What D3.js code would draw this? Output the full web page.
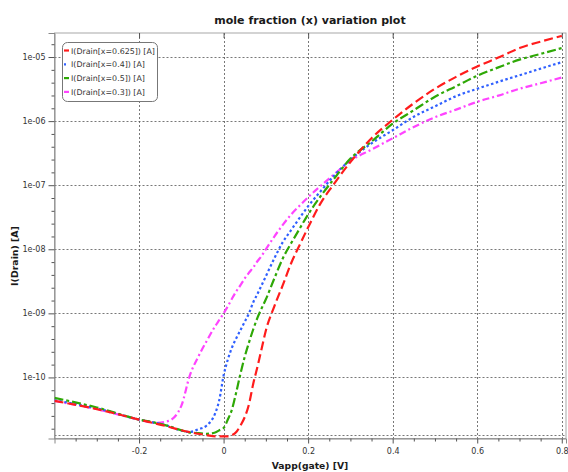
<!DOCTYPE html>
<html><head><meta charset="utf-8">
<script src="https://cdn.jsdelivr.net/npm/d3@7"></script>
<style>body{margin:0;background:#fff} svg{display:block}</style>
</head><body>
<svg id="chart" width="568" height="472"></svg>
<script>
// ---- data ----
const vgate = [-0.4, -0.3, -0.2, -0.16, -0.13, -0.1, -0.08, -0.06, -0.04, -0.02, -0.01, 0, 0.01, 0.02, 0.03, 0.04, 0.05, 0.06, 0.07, 0.08, 0.09, 0.1, 0.12, 0.14, 0.16, 0.18, 0.2, 0.23, 0.26, 0.3, 0.35, 0.4, 0.45, 0.5, 0.55, 0.6, 0.65, 0.7, 0.75, 0.8];
const seriesNames = ["I(Drain[x=0.625]) [A]", "I(Drain[x=0.4]) [A]", "I(Drain[x=0.5]) [A]", "I(Drain[x=0.3]) [A]"];
const idX0625 = [4.3e-11, 3.2e-11, 2.2e-11, 1.9e-11, 1.7e-11, 1.5e-11, 1.4e-11, 1.32e-11, 1.26e-11, 1.2e-11, 1.2e-11, 1.2e-11, 1.2e-11, 1.26e-11, 1.41e-11, 1.78e-11, 2.4e-11, 3.8e-11, 7.9e-11, 1.45e-10, 2.8e-10, 5.4e-10, 1.29e-9, 2.75e-9, 6.1e-9, 1.17e-8, 2.2e-8, 5.3e-8, 1.02e-7, 2.3e-7, 5.4e-7, 1.05e-6, 1.9e-6, 3.2e-6, 4.9e-6, 7.1e-6, 9.8e-6, 1.38e-5, 1.74e-5, 2.14e-5];
const idX04 = [4.4e-11, 3.3e-11, 2.2e-11, 1.95e-11, 1.74e-11, 1.48e-11, 1.41e-11, 1.55e-11, 1.78e-11, 2.75e-11, 4.5e-11, 1.07e-10, 1.9e-10, 2.95e-10, 4.1e-10, 5.5e-10, 7.4e-10, 1.0e-9, 1.48e-9, 2.0e-9, 2.75e-9, 3.8e-9, 7.2e-9, 1.29e-8, 2.0e-8, 3.1e-8, 4.7e-8, 8.1e-8, 1.38e-7, 2.5e-7, 4.5e-7, 7.2e-7, 1.17e-6, 1.7e-6, 2.45e-6, 3.2e-6, 4.1e-6, 5.2e-6, 6.6e-6, 8.3e-6];
const idX05 = [4.8e-11, 3.4e-11, 2.2e-11, 1.95e-11, 1.74e-11, 1.5e-11, 1.38e-11, 1.35e-11, 1.32e-11, 1.38e-11, 1.5e-11, 1.62e-11, 2.2e-11, 3.2e-11, 5.9e-11, 1.15e-10, 2.1e-10, 3.5e-10, 5.6e-10, 8.5e-10, 1.2e-9, 1.66e-9, 3.5e-9, 7.2e-9, 1.25e-8, 2.1e-8, 3.5e-8, 6.8e-8, 1.23e-7, 2.6e-7, 4.8e-7, 9.1e-7, 1.48e-6, 2.4e-6, 3.5e-6, 5.1e-6, 6.9e-6, 9.1e-6, 1.12e-5, 1.38e-5];
const idX03 = [4.3e-11, 3.2e-11, 2.2e-11, 1.95e-11, 2.1e-11, 3.6e-11, 1.07e-10, 2.1e-10, 3.7e-10, 6.3e-10, 7.9e-10, 1.0e-9, 1.29e-9, 1.7e-9, 2.2e-9, 2.75e-9, 3.5e-9, 4.3e-9, 5.2e-9, 6.5e-9, 7.9e-9, 1.0e-8, 1.58e-8, 2.4e-8, 3.5e-8, 4.8e-8, 6.5e-8, 9.8e-8, 1.45e-7, 2.4e-7, 3.6e-7, 5.4e-7, 8.1e-7, 1.15e-6, 1.51e-6, 2.0e-6, 2.5e-6, 3.2e-6, 3.9e-6, 4.8e-6];
const xTickValues = [-0.2, 0, 0.2, 0.4, 0.6, 0.8];
const xTickLabels = ["-0.2", "0", "0.2", "0.4", "0.6", "0.8"];
const yTickValues = [1e-10, 1e-9, 1e-8, 1e-7, 1e-6, 1e-5];
const yTickLabels = ["1e-10", "1e-09", "1e-08", "1e-07", "1e-06", "1e-05"];

// ---- style ----
const colors = ["#ff1c1c", "#3060ff", "#2ea806", "#ff44ff"];
const dashes = ["9,4", "2.5,2.5", "9,3,3,3", "7,3,2,3"];
const seriesValues = [idX0625, idX04, idX05, idX03];

const svg = d3.select("#chart");
const L = 54.5, R = 566, T = 33, B = 438.5;
const x = d3.scaleLinear().domain([-0.4, 0.81]).range([L, R]);
const y = d3.scaleLog().domain([Math.pow(10, -10.953), Math.pow(10, -4.625)]).range([B, T]);
const font = "DejaVu Sans, Verdana, sans-serif";

svg.append("defs").append("clipPath").attr("id", "clip")
  .append("rect").attr("x", L).attr("y", T).attr("width", R - L).attr("height", B - T);

// title
svg.append("text").attr("x", 310).attr("y", 24).attr("text-anchor", "middle")
  .attr("font-family", font).attr("font-weight", "bold").attr("font-size", 11)
  .attr("fill", "#1a1a1a").text("mole fraction (x) variation plot");

// grid
const grid = svg.append("g").attr("stroke", "#555").attr("stroke-width", 0.8).attr("stroke-dasharray", "2,2");
grid.selectAll(".gx").data(xTickValues).join("line")
  .attr("x1", d => Math.round(x(d)) + 0.5).attr("x2", d => Math.round(x(d)) + 0.5)
  .attr("y1", T).attr("y2", B);
grid.selectAll(".gy").data(yTickValues).join("line")
  .attr("x1", L).attr("x2", R)
  .attr("y1", d => Math.round(y(d)) + 0.5).attr("y2", d => Math.round(y(d)) + 0.5);
grid.append("line").attr("x1", L).attr("x2", R).attr("y1", B - 3).attr("y2", B - 3);

// frame
svg.append("rect").attr("x", L).attr("y", T).attr("width", R - L).attr("height", B - T)
  .attr("fill", "none").attr("stroke", "#a8a8a8").attr("stroke-width", 1);

// axes
const xMinor = d3.range(-0.35, 0.81, 0.05).map(v => +v.toFixed(2)).filter(v => !xTickValues.some(t => Math.abs(t - v) < 1e-6));
svg.append("g").attr("transform", `translate(0,${B})`)
  .call(d3.axisBottom(x).tickValues(xTickValues).tickSize(5).tickPadding(5)
    .tickFormat((d, i) => xTickLabels[i]));
svg.append("g").attr("transform", `translate(0,${B})`)
  .call(d3.axisBottom(x).tickValues(xMinor).tickSize(3).tickFormat(""))
  .select(".domain").remove();
const yMinor = [];
for (let k = -11; k <= -5; k++) for (let j = 1; j < 5; j++) {
  const v = Math.pow(10, k + j * 0.2);
  if (v > y.domain()[0] && v < y.domain()[1]) yMinor.push(v);
}
svg.append("g").attr("transform", `translate(${L},0)`)
  .call(d3.axisLeft(y).tickValues(yTickValues).tickSize(6).tickPadding(3)
    .tickFormat((d, i) => yTickLabels[i]));
svg.append("g").attr("transform", `translate(${L},0)`)
  .call(d3.axisLeft(y).tickValues(yMinor).tickSize(3).tickFormat(""))
  .select(".domain").remove();
// top inward major ticks
svg.append("g").attr("transform", `translate(0,${T})`)
  .call(d3.axisTop(x).tickValues(xTickValues).tickSize(-5).tickFormat(""))
  .select(".domain").remove();

svg.selectAll(".domain").attr("stroke", "#888");
svg.selectAll(".tick line").attr("stroke", "#555");
svg.selectAll(".tick text").attr("font-family", font).attr("font-size", 8).attr("fill", "#333");

// axis labels
svg.append("text").attr("x", 310).attr("y", 469).attr("text-anchor", "middle")
  .attr("font-family", font).attr("font-weight", "bold").attr("font-size", 9.2)
  .attr("fill", "#1a1a1a").text("Vapp(gate) [V]");
svg.append("text").attr("transform", "translate(18,256) rotate(-90)").attr("text-anchor", "middle")
  .attr("font-family", font).attr("font-weight", "bold").attr("font-size", 9.4)
  .attr("fill", "#1a1a1a").text("I(Drain) [A]");

// curves
const line = d3.line().x(d => x(d[0])).y(d => y(d[1])).curve(d3.curveMonotoneX);
const plot = svg.append("g").attr("clip-path", "url(#clip)");
const order = [3, 1, 2, 0];
order.forEach(s => {
  plot.append("path")
    .datum(vgate.map((v, i) => [v, seriesValues[s][i]]))
    .attr("fill", "none").attr("stroke", colors[s]).attr("stroke-width", 2.2)
    .attr("stroke-dasharray", dashes[s]).attr("d", line);
});

// legend
const lg = svg.append("g").attr("transform", "translate(62.5,42.5)");
lg.append("rect").attr("width", 95).attr("height", 59).attr("rx", 5)
  .attr("fill", "#fff").attr("stroke", "#777").attr("stroke-width", 1);
seriesNames.forEach((n, i) => {
  const yy = 8 + i * 13.8;
  lg.append("line").attr("x1", 1.5).attr("x2", 6.5).attr("y1", yy).attr("y2", yy)
    .attr("stroke", colors[i]).attr("stroke-width", 2.2)
    .attr("stroke-dasharray", i === 1 ? "2,3" : null);
  lg.append("text").attr("x", 8.5).attr("y", yy + 3).attr("font-family", font)
    .attr("font-size", 7.9).attr("fill", "#333").text(n);
});
</script>
</body></html>
